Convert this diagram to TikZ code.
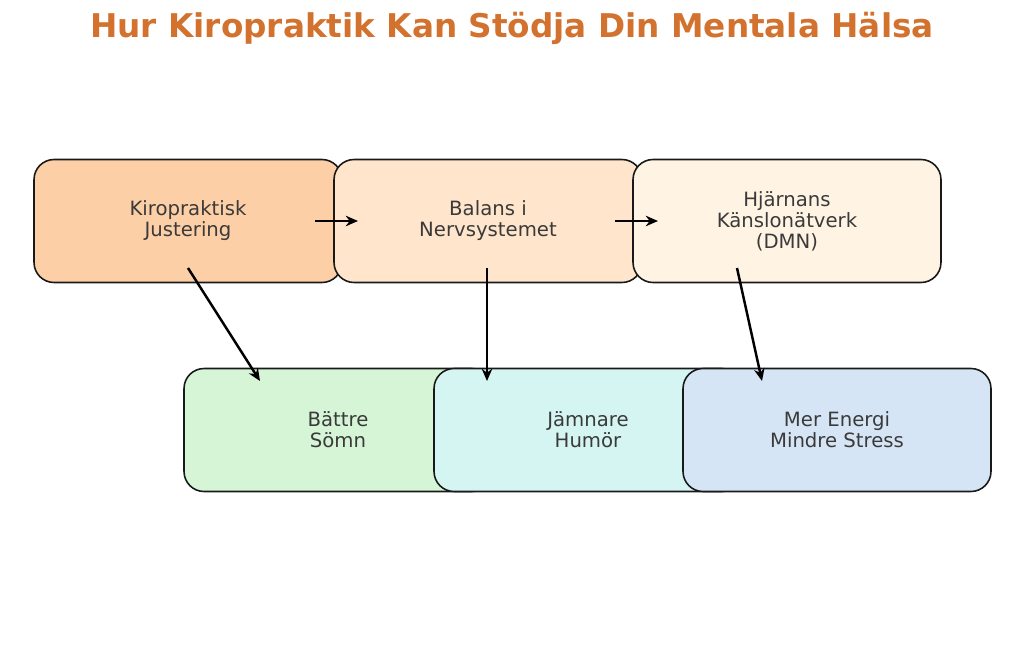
\documentclass[tikz,border=0pt]{standalone}
\usepackage{fontspec}
\usetikzlibrary{arrows.meta}
\setmainfont{DejaVu Sans}
\definecolor{titlec}{HTML}{D2722E}
\definecolor{txt}{HTML}{3A3A3A}
\definecolor{cA}{HTML}{FDCFA6}
\definecolor{cB}{HTML}{FFE5CC}
\definecolor{cC}{HTML}{FFF4E4}
\definecolor{cD}{HTML}{D5F5D6}
\definecolor{cE}{HTML}{D5F5F3}
\definecolor{cF}{HTML}{D6E5F5}
\begin{document}
\begin{tikzpicture}[x=0.02cm,y=-0.02cm,
  box/.style={draw=black!90,line width=0.9pt,rounded corners=0.4cm,minimum width=6.16cm,minimum height=2.46cm,align=center,text=txt,font=\fontsize{11.2}{12}\selectfont},
  arr/.style={-{Stealth[length=7pt,width=6pt]},line width=1.4pt}]
\useasboundingbox (0,0) rectangle (1024,666);
\node[font=\bfseries\fontsize{18.6}{22}\selectfont,text=titlec] (title) at (512,28) {Hur Kiropraktik Kan Stödja Din Mentala Hälsa};
\node[box,fill=cA] (a) at (188,221) {Kiropraktisk\\Justering};
\node[box,fill=cB] (b) at (488,221) {Balans i\\Nervsystemet};
\node[box,fill=cC] (c) at (787,221) {Hjärnans\\Känslonätverk\\(DMN)};
\node[box,fill=cD] (d) at (338,430) {Bättre\\Sömn};
\node[box,fill=cE] (e) at (588,430) {Jämnare\\Humör};
\node[box,fill=cF] (f) at (837,430) {Mer Energi\\Mindre Stress};
\coordinate (a1) at (315,221); \coordinate (a2) at (358,221);
\coordinate (b1) at (615,221); \coordinate (b2) at (658,221);
\coordinate (s1) at (188,268); \coordinate (t1) at (260,381);
\coordinate (s2) at (487,268); \coordinate (t2) at (487,381);
\coordinate (s3) at (737,268); \coordinate (t3) at (762,381);
\draw[arr] (a1) -- (a2);
\draw[arr] (b1) -- (b2);
\draw[arr] (s1) -- (t1);
\draw[arr] (s2) -- (t2);
\draw[arr] (s3) -- (t3);
\end{tikzpicture}
\end{document}
